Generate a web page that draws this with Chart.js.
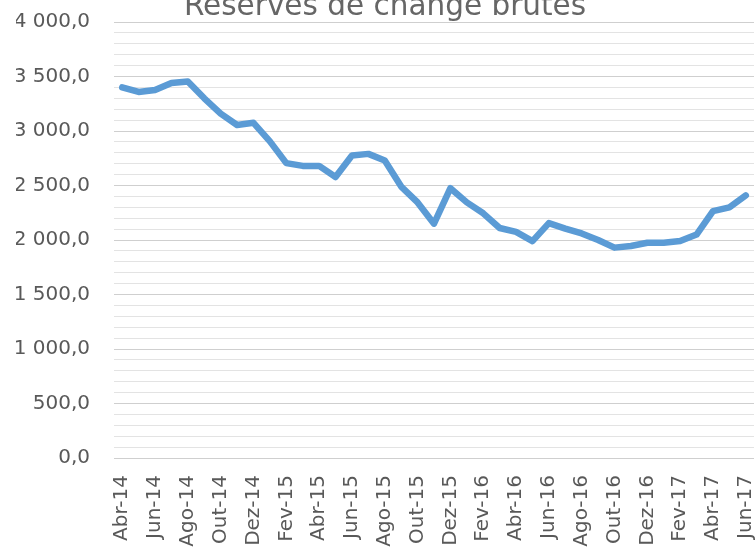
<!DOCTYPE html>
<html>
<head>
<meta charset="utf-8">
<script src="https://cdn.jsdelivr.net/npm/chart.js@4/dist/chart.umd.min.js"></script>
<style>
  html, body { margin: 0; padding: 0; background: #fff; overflow: hidden; width: 755px; height: 548px; }
  #wrap { position: absolute; left: 0; top: -14px; width: 800px; height: 628px; }
</style>
</head>
<body>
<div id="wrap"><canvas id="lineChart" width="800" height="628"></canvas></div>
<script>
var meses = ['Abr-14', 'Mai-14', 'Jun-14', 'Jul-14', 'Ago-14', 'Set-14', 'Out-14', 'Nov-14', 'Dez-14',
  'Jan-15', 'Fev-15', 'Mar-15', 'Abr-15', 'Mai-15', 'Jun-15', 'Jul-15', 'Ago-15', 'Set-15', 'Out-15', 'Nov-15', 'Dez-15',
  'Jan-16', 'Fev-16', 'Mar-16', 'Abr-16', 'Mai-16', 'Jun-16', 'Jul-16', 'Ago-16', 'Set-16', 'Out-16', 'Nov-16', 'Dez-16',
  'Jan-17', 'Fev-17', 'Mar-17', 'Abr-17', 'Mai-17', 'Jun-17'];

var reservas = [3400, 3358, 3376, 3440, 3455, 3300, 3160, 3055, 3075,
  2905, 2705, 2680, 2680, 2578, 2775, 2790, 2730, 2490, 2345, 2150, 2475,
  2345, 2245, 2110, 2075, 1990, 2155, 2105, 2060, 2000, 1930, 1945, 1975,
  1975, 1990, 2050, 2265, 2300, 2410];

var yMin = 0, yMax = 4000, yStep = 100, yLabelStep = 500;
var titulo = 'Réserves de change brutes';

function formato(v) {
  var s = v >= 1000 ? Math.floor(v / 1000) + ' ' + String(v % 1000).padStart(3, '0') : String(v);
  return s + ',0';
}

var ctx = document.getElementById('lineChart').getContext('2d');
var cinza = '#595959';

new Chart(ctx, {
  type: 'line',
  data: {
    labels: meses,
    datasets: [{
      label: titulo,
      data: reservas,
      borderColor: '#5B9BD5',
      borderWidth: 6.5,
      borderJoinStyle: 'round',
      borderCapStyle: 'round',
      pointRadius: 0,
      tension: 0,
      fill: false
    }]
  },
  options: {
    responsive: false,
    animation: false,
    layout: { padding: { top: 0, right: 46, bottom: 0, left: 16 } },
    plugins: {
      legend: { display: false },
      tooltip: { enabled: false },
      title: {
        display: true,
        text: titulo,
        color: '#666666',
        font: { family: 'DejaVu Sans', size: 29.5, weight: 'normal', lineHeight: 1 },
        padding: { top: 0, bottom: 0 }
      }
    },
    scales: {
      x: {
        offset: true,
        grid: { display: false, drawTicks: false },
        border: { display: false },
        ticks: {
          autoSkip: false,
          minRotation: 90,
          maxRotation: 90,
          padding: 17,
          color: cinza,
          font: { family: 'DejaVu Sans', size: 20 },
          callback: function (val, i) { return i % 2 === 0 ? this.getLabelForValue(val) : ''; }
        },
        afterFit: function (s) { s.height = 156; }
      },
      y: {
        min: yMin,
        max: yMax,
        grid: {
          drawTicks: false,
          lineWidth: 1,
          color: function (c) { return c.tick && c.tick.value % yLabelStep === 0 ? '#cfcfcf' : '#e3e3e3'; }
        },
        border: { display: false },
        ticks: {
          stepSize: yStep,
          autoSkip: false,
          padding: 24,
          color: cinza,
          font: { family: 'DejaVu Sans', size: 20 },
          callback: function (v) { return v % yLabelStep === 0 ? formato(v) : ''; }
        },
        afterFit: function (s) { s.width = 98; }
      }
    }
  }
});
</script>
</body>
</html>
